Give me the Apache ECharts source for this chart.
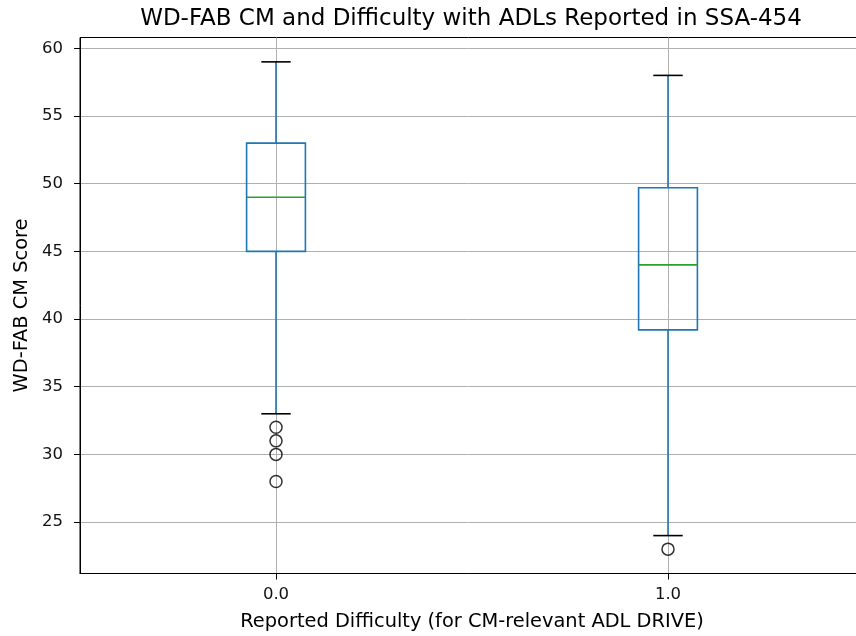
<!DOCTYPE html>
<html>
<head>
<meta charset="utf-8">
<script src="https://cdn.jsdelivr.net/npm/echarts@6/dist/echarts.min.js"></script>
<style>
html,body{margin:0;padding:0;background:#fff;}
#chart{width:856px;height:636px;}
</style>
</head>
<body>
<div id="chart"></div>
<script>
// ---- data ----
const categories = ['0.0', '1.0'];
const whiskerLow = [33, 24];
const q1 = [45, 39.2];
const median = [49, 44];
const q3 = [53, 49.7];
const whiskerHigh = [59, 58];
const outliers0 = [32, 31, 30, 28];
const outliers1 = [23];
const yTicks = [25, 30, 35, 40, 45, 50, 55, 60];

const boxData = categories.map((c, i) => [i + 1, whiskerLow[i], q1[i], median[i], q3[i], whiskerHigh[i]]);
const outlierData = [];
outliers0.forEach(v => outlierData.push([1, v]));
outliers1.forEach(v => outlierData.push([2, v]));

const FONT = 'DejaVu Sans';
const chart = echarts.init(document.getElementById('chart'), null, {renderer: 'canvas'});

function renderBox(params, api) {
  const x = api.value(0);
  const lo = api.coord([x, api.value(1)]);
  const b1 = api.coord([x, api.value(2)]);
  const md = api.coord([x, api.value(3)]);
  const b3 = api.coord([x, api.value(4)]);
  const hi = api.coord([x, api.value(5)]);
  const halfBox = (api.coord([x + 0.075, 0])[0] - api.coord([x, 0])[0]);
  const halfCap = halfBox / 2;
  const cx = lo[0];
  const blue = '#1f77b4';
  const lw = 1.6;
  return {
    type: 'group',
    children: [
      {type: 'line', shape: {x1: cx, y1: b3[1], x2: cx, y2: hi[1]}, style: {stroke: blue, lineWidth: lw}},
      {type: 'line', shape: {x1: cx, y1: b1[1], x2: cx, y2: lo[1]}, style: {stroke: blue, lineWidth: lw}},
      {type: 'rect', shape: {x: cx - halfBox, y: b3[1], width: 2 * halfBox, height: b1[1] - b3[1]}, style: {stroke: blue, fill: 'none', lineWidth: lw}},
      {type: 'line', shape: {x1: cx - halfBox, y1: md[1], x2: cx + halfBox, y2: md[1]}, style: {stroke: '#2ca02c', lineWidth: lw}},
      {type: 'line', shape: {x1: cx - halfCap, y1: hi[1], x2: cx + halfCap, y2: hi[1]}, style: {stroke: '#000', lineWidth: lw}},
      {type: 'line', shape: {x1: cx - halfCap, y1: lo[1], x2: cx + halfCap, y2: lo[1]}, style: {stroke: '#000', lineWidth: lw}}
    ]
  };
}

const option = {
  animation: false,
  backgroundColor: '#fff',
  textStyle: {fontFamily: FONT},
  title: {
    text: 'WD-FAB CM and Difficulty with ADLs Reported in SSA-454',
    left: 466, top: 3, textAlign: 'center',
    textStyle: {fontFamily: FONT, fontSize: 23, fontWeight: 'normal', color: '#000'}
  },
  grid: {
    left: 80, top: 37.5, width: 784, height: 536,
    containLabel: false, outerBoundsMode: 'none',
    show: true, borderColor: '#000', borderWidth: 1, backgroundColor: 'transparent'
  },
  xAxis: {
    type: 'value', min: 0.5, max: 2.5,
    name: 'Reported Difficulty (for CM-relevant ADL DRIVE)',
    nameLocation: 'middle', nameGap: 39,
    nameTextStyle: {fontFamily: FONT, fontSize: 19.4, color: '#000'},
    axisLine: {show: true, onZero: false, lineStyle: {color: '#000', width: 1}},
    axisTick: {show: true, length: 6, customValues: [1, 2], lineStyle: {color: '#000', width: 1}},
    axisLabel: {customValues: [1, 2], formatter: v => categories[Math.round(v) - 1], fontFamily: FONT, fontSize: 16.5, color: '#111', margin: 13},
    splitLine: {show: true, lineStyle: {color: '#b0b0b0', width: 1}}
  },
  yAxis: {
    type: 'value', min: 21.2, max: 60.8,
    name: 'WD-FAB CM Score',
    nameLocation: 'middle', nameGap: 45,
    nameTextStyle: {fontFamily: FONT, fontSize: 19.4, color: '#000'},
    axisLine: {show: true, onZero: false, lineStyle: {color: '#000', width: 1}},
    axisTick: {show: true, length: 6, customValues: yTicks, lineStyle: {color: '#000', width: 1}},
    axisLabel: {customValues: yTicks, fontFamily: FONT, fontSize: 16.5, color: '#111', margin: 17},
    splitLine: {show: true, lineStyle: {color: '#b0b0b0', width: 1}}
  },
  series: [
    {
      type: 'custom',
      renderItem: renderBox,
      data: boxData,
      encode: {x: 0, y: [1, 2, 3, 4, 5]},
      clip: false
    },
    {
      type: 'scatter',
      data: outlierData,
      symbol: 'circle',
      symbolSize: 12,
      itemStyle: {color: 'rgba(0,0,0,0)', borderColor: '#000', borderWidth: 1.5}
    }
  ]
};
chart.setOption(option);
</script>
</body>
</html>
